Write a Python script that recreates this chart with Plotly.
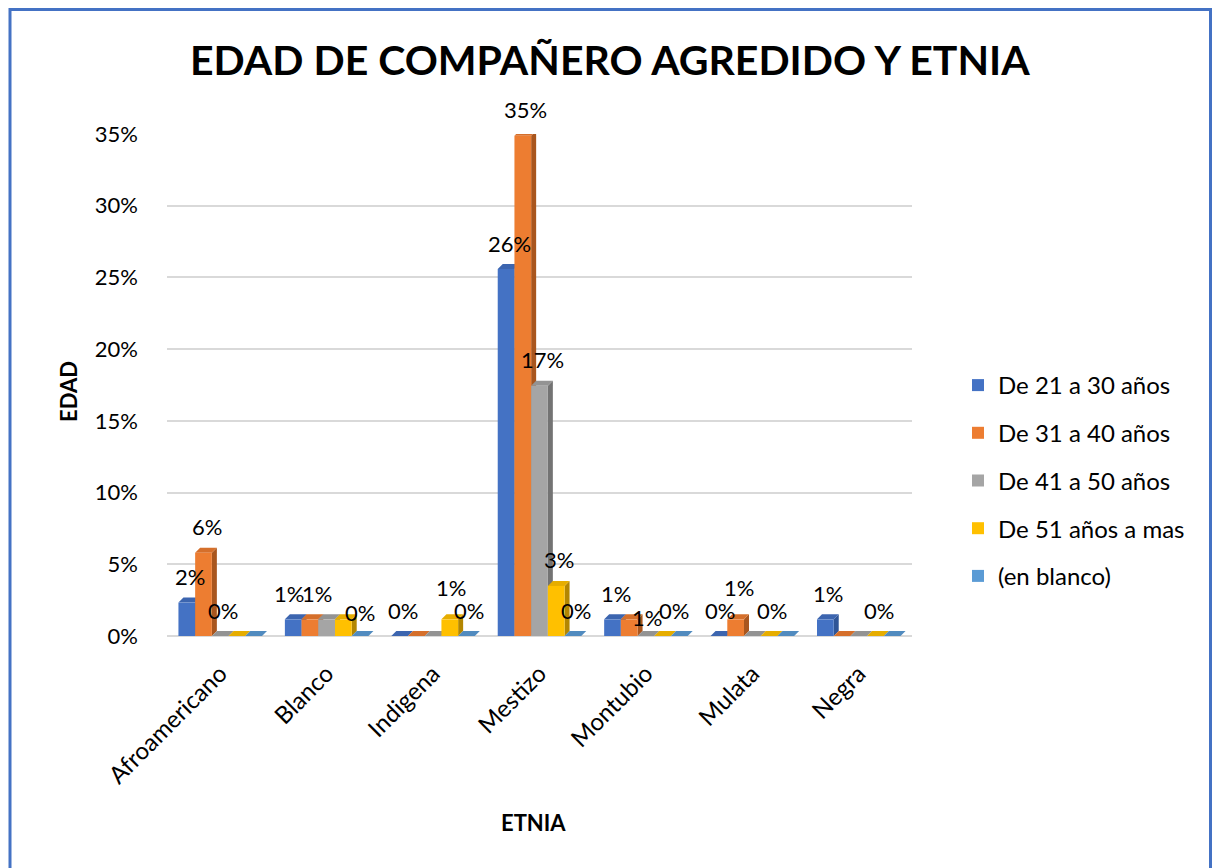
import plotly.graph_objects as go

# Ethnic groups (x categories) and age-range series
etnias = ["Afroamericano", "Blanco", "Indigena", "Mestizo", "Montubio", "Mulata", "Negra"]
series_names = ["De 21 a 30 años", "De 31 a 40 años", "De 41 a 50 años",
                "De 51 años a mas", "(en blanco)"]

# Share of the total for each age range, per ethnic group
edad_21_30 = [0.0233, 0.0116, 0.0, 0.2558, 0.0116, 0.0, 0.0116]
edad_31_40 = [0.0581, 0.0116, 0.0, 0.3488, 0.0116, 0.0116, 0.0]
edad_41_50 = [0.0, 0.0116, 0.0, 0.1744, 0.0, 0.0, 0.0]
edad_51_mas = [0.0, 0.0116, 0.0116, 0.0349, 0.0, 0.0, 0.0]
en_blanco = [0.0, 0.0, 0.0, 0.0, 0.0, 0.0, 0.0]

# Which data labels are displayed for each series (1 = shown)
show_21_30 = [1, 1, 1, 1, 1, 1, 1]
show_31_40 = [1, 1, 0, 1, 1, 1, 0]
show_41_50 = [1, 0, 0, 1, 0, 0, 0]
show_51_mas = [0, 0, 1, 1, 0, 1, 1]
show_blanco = [0, 1, 1, 1, 1, 0, 0]

y_ticks = [0, 0.05, 0.10, 0.15, 0.20, 0.25, 0.30, 0.35]

series_values = [edad_21_30, edad_31_40, edad_41_50, edad_51_mas, en_blanco]
series_show = [show_21_30, show_31_40, show_41_50, show_51_mas, show_blanco]
front_colors = ["#4472C4", "#ED7D31", "#A5A5A5", "#FFC000", "#5B9BD5"]
side_colors = ["#2F5597", "#A9561E", "#737373", "#B38600", "#3E75A8"]
top_colors = ["#3C65AF", "#D56F2B", "#939393", "#E6AD00", "#518BBF"]

# Manual nudges (pixels) for labels that would collide: (series, category) -> (dx, dy)
label_nudge = {
    (0, 1): (-7, 0),
    (1, 1): (4, 0),
    (1, 4): (15, -24),
    (4, 4): (-8, 0),
    (4, 1): (-3, -2),
    (3, 2): (-2, 6),
    (1, 5): (0, 6),
    (0, 5): (-2, 0),
}

FONT = "Lato"
W, H = 1219, 868
ML, MR, MT, MB = 167, 307, 134, 232
PLOT_W = W - ML - MR
PLOT_H = H - MT - MB
X_RANGE = [-0.5, len(etnias) - 0.5]
Y_RANGE = [0, 0.35]
BARGAP = 0.215
n_series = len(series_names)
bar_w = (1 - BARGAP) / n_series

# pixel -> data unit conversion for the 3D depth of the bars
px_x = (X_RANGE[1] - X_RANGE[0]) / PLOT_W
px_y = (Y_RANGE[1] - Y_RANGE[0]) / PLOT_H
depth_x = 5 * px_x
depth_y = 5 * px_y


def paper_x(px):
    return (px - ML) / PLOT_W


def paper_y(py):
    return (H - MB - py) / PLOT_H


fig = go.Figure()
x_idx = list(range(len(etnias)))

for k, (name, vals) in enumerate(zip(series_names, series_values)):
    fig.add_trace(go.Bar(
        x=x_idx, y=vals, name=name,
        marker=dict(color=front_colors[k], line=dict(width=0)),
        legendgroup=name,
        width=bar_w,
        offset=(k - n_series / 2) * bar_w,
        hoverinfo="skip",
    ))

shapes = []
annotations = []
for k, (vals, show) in enumerate(zip(series_values, series_show)):
    for i, v in enumerate(vals):
        xl = i + (k - n_series / 2) * bar_w
        xr = xl + bar_w
        # right side face
        shapes.append(dict(
            type="path", layer="between", xref="x", yref="y",
            path=(f"M {xr},0 L {xr + depth_x},{depth_y} "
                  f"L {xr + depth_x},{v + depth_y} L {xr},{v} Z"),
            fillcolor=side_colors[k], line=dict(width=0),
        ))
        # top face
        shapes.append(dict(
            type="path", layer="between", xref="x", yref="y",
            path=(f"M {xl},{v} L {xl + depth_x},{v + depth_y} "
                  f"L {xr + depth_x},{v + depth_y} L {xr},{v} Z"),
            fillcolor=top_colors[k], line=dict(width=0),
        ))
        if show[i]:
            dx, dy = label_nudge.get((k, i), (0, 0))
            annotations.append(dict(
                x=(xl + xr) / 2, y=v, xref="x", yref="y",
                text=f"{v * 100:.0f}%", showarrow=False,
                yanchor="middle", yshift=26 + dy, xshift=3 + dx,
                font=dict(family=FONT, size=22, color="#000000"),
            ))

# outer chart border
shapes.append(dict(
    type="rect", xref="paper", yref="paper", layer="above",
    x0=paper_x(10), x1=paper_x(1210.5), y0=paper_y(890), y1=paper_y(9.5),
    line=dict(color="#4472C4", width=3), fillcolor="rgba(0,0,0,0)",
))

annotations += [
    dict(text="<b>EDAD DE COMPAÑERO AGREDIDO Y ETNIA</b>", xref="paper", yref="paper",
         x=paper_x(610), y=paper_y(60), showarrow=False,
         xanchor="center", yanchor="middle",
         font=dict(family=FONT, size=41, color="#000000")),
    dict(text="<b>EDAD</b>", xref="paper", yref="paper",
         x=paper_x(68), y=paper_y(392), showarrow=False, textangle=-90,
         xanchor="center", yanchor="middle",
         font=dict(family=FONT, size=22, color="#000000")),
    dict(text="<b>ETNIA</b>", xref="paper", yref="paper",
         x=paper_x(533), y=paper_y(822), showarrow=False,
         xanchor="center", yanchor="middle",
         font=dict(family=FONT, size=22, color="#000000")),
]

fig.update_layout(
    width=W, height=H,
    margin=dict(l=ML, r=MR, t=MT, b=MB, autoexpand=False),
    paper_bgcolor="white", plot_bgcolor="white",
    barmode="overlay",
    font=dict(family=FONT, color="#000000"),
    showlegend=True,
    legend=dict(
        x=paper_x(958), y=paper_y(363), xanchor="left", yanchor="top",
        font=dict(family=FONT, size=24, color="#000000"),
        tracegroupgap=13.5, bgcolor="rgba(0,0,0,0)",
    ),
    shapes=shapes,
    annotations=annotations,
)

fig.update_xaxes(
    range=X_RANGE, tickmode="array", tickvals=x_idx, ticktext=etnias,
    tickangle=-45, showgrid=False, zeroline=False, showline=False,
    ticks="", ticklabelstandoff=18,
    tickfont=dict(family=FONT, size=24, color="#000000"),
)
fig.update_yaxes(
    range=Y_RANGE, tickmode="array", tickvals=y_ticks, tickformat=".0%",
    showgrid=True, gridcolor="#D9D9D9", gridwidth=2,
    zeroline=True, zerolinecolor="#D9D9D9", zerolinewidth=2,
    showline=False, ticks="", ticklabelstandoff=28,
    tickfont=dict(family=FONT, size=22, color="#000000"),
)

fig.write_html("out.html")
